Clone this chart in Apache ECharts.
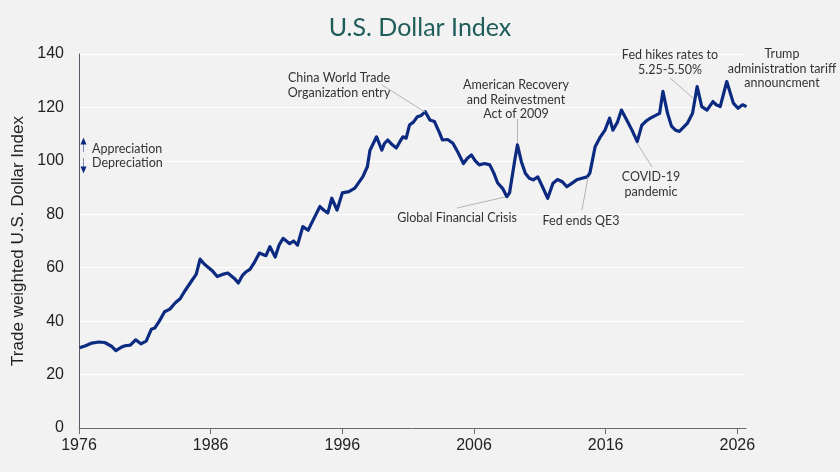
<!DOCTYPE html>
<html>
<head>
<meta charset="utf-8">
<script src="https://cdn.jsdelivr.net/npm/echarts@6/dist/echarts.min.js"></script>
<style>
html,body{margin:0;padding:0;background:#f2f2f2;}
#chart{width:840px;height:472px;}
</style>
</head>
<body>
<div id="chart"></div>
<script>
// Years (decimal) and index values
var years = [1976.05,1976.5,1976.97,1977.5,1977.95,1978.5,1978.8,1979.2,1979.5,1979.9,1980.3,1980.7,1981.1,1981.5,1981.75,1982.1,1982.5,1982.9,1983.3,1983.7,1984.0,1984.6,1984.9,1985.2,1985.4,1985.6,1986.1,1986.5,1986.9,1987.3,1987.8,1988.1,1988.4,1988.7,1989.0,1989.3,1989.7,1990.2,1990.5,1990.9,1991.2,1991.5,1992.0,1992.3,1992.6,1993.0,1993.4,1993.8,1994.3,1994.6,1994.9,1995.2,1995.6,1996.0,1996.5,1996.95,1997.55,1997.9,1998.1,1998.35,1998.6,1999.0,1999.2,1999.45,1999.8,2000.1,2000.35,2000.6,2000.85,2001.1,2001.4,2001.7,2002.0,2002.3,2002.65,2003.0,2003.4,2003.6,2004.0,2004.4,2004.8,2005.2,2005.5,2005.8,2006.1,2006.4,2006.8,2007.2,2007.5,2007.8,2008.2,2008.5,2008.7,2009.1,2009.3,2009.6,2009.9,2010.2,2010.5,2010.85,2011.2,2011.6,2012.0,2012.35,2012.7,2013.05,2013.4,2013.8,2014.2,2014.6,2014.8,2015.2,2015.6,2015.95,2016.3,2016.55,2016.9,2017.2,2017.6,2018.0,2018.4,2018.75,2019.1,2019.4,2019.8,2020.1,2020.35,2020.7,2021.0,2021.3,2021.6,2021.9,2022.2,2022.6,2022.95,2023.3,2023.7,2024.15,2024.4,2024.7,2025.2,2025.7,2026.05,2026.4,2026.7];
var values = [30,30.8,31.8,32.2,32,30.5,29,30.2,30.8,31,33,31.5,32.5,37,37.4,40,43.5,44.5,46.8,48.5,51,55.4,57.5,63.2,62,61,59,56.7,57.5,58,56,54.3,57,58.5,59.5,61.8,65.5,64.5,67.9,64,68.5,71,69,70,68.5,75.4,74,78,82.9,81.5,80.5,86,81.6,88,88.5,89.8,94,97.8,104,106.5,109,104,106.5,107.8,106,104.8,107,109,108.5,113.4,114.5,116.5,117,118.4,115.3,114.7,110.3,107.8,108,106.6,103,99,101,102.2,100,98.5,99,98.5,95.5,91.7,89.5,86.6,88,100.3,106,99.7,95.4,93.5,92.9,94,90.3,86,91.6,93,92.2,90.3,91.5,92.9,93.5,94,95.4,105.3,109,111.5,116,111.5,114.5,119,115.3,111.5,107.2,113.4,115,116,117,117.8,126,117.8,113,111.5,111,112.5,114,117.8,127.8,120.3,119,122.2,121,120.3,129.7,121.6,119.7,121,120.3];
var xTickLabels = [1976,1986,1996,2006,2016,2026];
var yTicks = [0,20,40,60,80,100,120,140];

var baseYear = 1976;
var seriesData = years.map(function(y,i){return [y-baseYear, values[i]];});
var tickOffsets = xTickLabels.map(function(y){return y-baseYear;});

var chart = echarts.init(document.getElementById('chart'), null, {renderer:'canvas'});
var annoFont = '12.5px Lato, "Noto Sans", sans-serif';
var annoColor = '#333333';
var leader = '#b4b4b8';

function txt(x, y, s){
  return {type:'text', x:x, y:y, z:100, style:{text:s, fill:annoColor, font:annoFont, textAlign:'center', textVerticalAlign:'top', lineHeight:14.5}};
}
function ln(x1,y1,x2,y2){
  return {type:'line', z:100, shape:{x1:x1,y1:y1,x2:x2,y2:y2}, style:{stroke:leader, lineWidth:1}};
}

chart.setOption({
  backgroundColor:'#f2f2f2',
  animation:false,
  title:{
    text:'U.S. Dollar Index', left:'center', top:10,
    textStyle:{color:'#1e5d5a', fontSize:25, fontWeight:'normal', fontFamily:'Lato, "Noto Sans", sans-serif'}
  },
  grid:{left:79, right:94, top:54, bottom:44, containLabel:false},
  xAxis:{
    type:'value', min:0, max:50.66, interval:10,
    axisLine:{show:true, lineStyle:{color:'#6a6a72', width:1}},
    axisTick:{show:true, length:6, lineStyle:{color:'#6a6a72'}, customValues:tickOffsets},
    axisLabel:{color:'#222', fontSize:16, fontFamily:'"Liberation Sans", Arial, sans-serif', margin:10,
      customValues:tickOffsets, formatter:function(v){return String(Math.round(v+baseYear));}},
    splitLine:{show:false}
  },
  yAxis:{
    type:'value', min:0, max:140, interval:20,
    name:'Trade weighted U.S. Dollar Index', nameLocation:'middle', nameGap:51, nameRotate:90,
    nameTextStyle:{color:'#222', fontSize:17, fontFamily:'"Liberation Sans", Arial, sans-serif'},
    axisLine:{show:true, lineStyle:{color:'#5a5a66', width:1}},
    axisTick:{show:false},
    axisLabel:{color:'#222', fontSize:16, fontFamily:'"Liberation Sans", Arial, sans-serif', margin:15},
    splitLine:{show:true, lineStyle:{color:'#ffffff', width:1.2}}
  },
  series:[{
    type:'line', data:seriesData, showSymbol:false, smooth:false,
    lineStyle:{color:'#0c2a80', width:3.2, join:'round'}, z:5
  }],
  graphic:[
    // appreciation / depreciation arrows
    {type:'line', z:100, shape:{x1:83.5,y1:144,x2:83.5,y2:152}, style:{stroke:'#7f8fb8', lineWidth:1}},
    {type:'polygon', z:100, shape:{points:[[80.5,144.5],[86.5,144.5],[83.5,137.5]]}, style:{fill:'#0c2a80'}},
    {type:'line', z:100, shape:{x1:83.5,y1:158,x2:83.5,y2:167}, style:{stroke:'#7f8fb8', lineWidth:1}},
    {type:'polygon', z:100, shape:{points:[[80.5,166.5],[86.5,166.5],[83.5,173.5]]}, style:{fill:'#0c2a80'}},
    {type:'text', x:92, y:149, z:100, style:{text:'Appreciation', fill:annoColor, font:annoFont, textAlign:'left', textVerticalAlign:'middle'}},
    {type:'text', x:92, y:163, z:100, style:{text:'Depreciation', fill:annoColor, font:annoFont, textAlign:'left', textVerticalAlign:'middle'}},
    // annotations
    txt(339, 71, 'China World Trade\nOrganization entry'),
    ln(382, 85, 425, 112),
    txt(516, 78, 'American Recovery\nand Reinvestment\nAct of 2009'),
    ln(517.5, 119, 517.5, 143),
    txt(457, 211, 'Global Financial Crisis'),
    ln(457, 208, 505, 197),
    txt(581, 214, 'Fed ends QE3'),
    ln(582, 210, 588, 177),
    txt(651, 170, 'COVID-19\npandemic'),
    ln(652, 167, 637, 143),
    txt(670, 48, 'Fed hikes rates to\n5.25-5.50%'),
    ln(670, 78, 693, 98),
    txt(782, 47, 'Trump\nadministration tariff\nannouncment')
  ]
});
</script>
</body>
</html>
